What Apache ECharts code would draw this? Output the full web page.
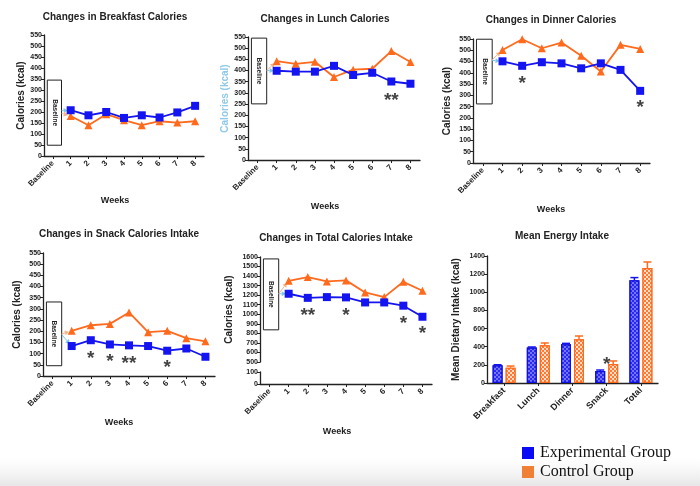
<!DOCTYPE html>
<html><head><meta charset="utf-8">
<script src="https://cdn.jsdelivr.net/npm/echarts/dist/echarts.min.js"></script>
<style>html,body{margin:0;padding:0;background:#fff}#c{width:700px;height:486px}</style>
</head><body><div id="c"></div><script>
// ---------- data ----------
const weeks = ['Baseline','1','2','3','4','5','6','7','8'];
const breakfastExp = [null,208,185,200,173,185,175,198,228];
const breakfastCtl = [null,182,140,190,163,140,158,152,158];
const lunchExp = [null,399,395,395,421,380,390,351,341];
const lunchCtl = [null,442,430,439,371,404,408,487,438];
const dinnerExp = [null,451,431,447,442,420,442,413,320];
const dinnerCtl = [null,501,549,509,534,476,406,524,506];
const snackExp = [null,134,160,141,137,134,113,123,86];
const snackCtl = [null,202,227,233,284,196,202,169,155];
const totalExp = [null,1215,1172,1180,1177,1124,1124,1090,974];
const totalCtl = [null,1351,1390,1344,1355,1229,1180,1340,1246];
// baseline boxes [low, high]
const breakfastBox = [49,345];
const lunchBox = [251,545];
const dinnerBox = [262,549];
const snackBox = [46,331];
const totalBox = [837,1580];
// baseline arrow start values [exp, ctl]
const breakfastStart = [206,194];
const lunchStart = [400,400];
const dinnerStart = [455,458];
const snackStart = [185,188];
const totalStart = [1215,1215];
// significance marks [week, value, text]
const lunchStars = [['7',290,'**']];
const dinnerStars = [['2',376,'*'],['8',270,'*']];
const snackStars = [['2',104,'*'],['3',91,'*'],['4',82,'**'],['6',62,'*']];
const totalStars = [['2',1047,'**'],['4',1047,'*'],['7',961,'*'],['8',856,'*']];
// mean energy intake
const mealCats = ['Breakfast','Lunch','Dinner','Snack','Total'];
const meanExp = [195,390,426,132,1132];
const meanExpErr = [6,7,11,11,30];
const meanCtl = [169,415,482,210,1268];
const meanCtlErr = [18,26,36,33,66];
const mealStars = [['Snack',262,'*']];

// ---------- style ----------
const FONT = 'Liberation Sans';
const BLUE = '#1414f0', ORANGE = '#ff6a1c', INK = '#222';

const grids = [
  {left:44, top:35, width:160, height:121},   // breakfast
  {left:248, top:37, width:172, height:123},  // lunch
  {left:473, top:39, width:177, height:124},  // dinner
  {left:43, top:253, width:172, height:123},  // snack
  {left:260, top:257, width:172, height:105}, // total upper
  {left:260, top:372, width:172, height:12},  // total lower
  {left:487, top:256, width:171, height:127}  // mean
];

function xAx(gi, data, show, opts) {
  return Object.assign({
    type:'category', gridIndex:gi, data:data, boundaryGap:true,
    axisLine:{show:show, onZero:false, lineStyle:{color:INK, width:1.3}},
    axisTick:{show:show, alignWithLabel:true, length:3, lineStyle:{color:INK}},
    axisLabel:{show:show, rotate:45, margin:6, fontFamily:FONT, fontWeight:'bold', fontSize:8, color:INK},
    splitLine:{show:false}
  }, opts||{});
}
function yAx(gi, min, max, interval, name, nameGap, nameColor) {
  return {
    type:'value', gridIndex:gi, min:min, max:max, interval:interval,
    name:name, nameLocation:'middle', nameGap:nameGap,
    nameTextStyle:{fontFamily:FONT, fontWeight:'bold', fontSize:10, color:nameColor||INK},
    axisLine:{show:true, lineStyle:{color:INK, width:1.3}},
    axisTick:{show:true, length:3, lineStyle:{color:INK}},
    axisLabel:{fontFamily:FONT, fontWeight:'bold', fontSize:7, color:INK, margin:2,
               formatter:function(v){return String(v);}},
    splitLine:{show:false}
  };
}

function boxSeries(gi, box) {
  return {
    type:'custom', xAxisIndex:gi, yAxisIndex:gi, z:1, silent:true,
    data:[[0, box[0], box[1]]],
    renderItem:function(params, api){
      const c0 = api.coord([api.value(0), api.value(1)]);
      const c1 = api.coord([api.value(0), api.value(2)]);
      const band = api.size([1,0])[0];
      const w = band*0.8, cx = c0[0]+1.5;
      return {type:'group', children:[
        {type:'rect', shape:{x:cx-w/2, y:c1[1], width:w, height:c0[1]-c1[1]},
         style:{fill:'#fff', stroke:INK, lineWidth:1}},
        {type:'text', x:cx, y:(c0[1]+c1[1])/2, rotation:-Math.PI/2,
         style:{text:'Baseline', textAlign:'center', textVerticalAlign:'middle', align:'center', verticalAlign:'middle',
                font:'bold 6.5px "Liberation Sans"', fill:INK}}
      ]};
    }
  };
}
function arrowSeries(gi, startVals, exp, ctl) {
  return {
    type:'custom', xAxisIndex:gi, yAxisIndex:gi, z:2, silent:true,
    data:[[0, startVals[0], exp[1], 0],[0, startVals[1], ctl[1], 1]],
    renderItem:function(params, api){
      const band = api.size([1,0])[0];
      const a = api.coord([0, api.value(1)]);
      const b = api.coord([1, api.value(2)]);
      const x0 = a[0]+band*0.4+1.5, y0 = a[1];
      const dx = b[0]-x0, dy = b[1]-y0, L = Math.sqrt(dx*dx+dy*dy)||1;
      const ux = dx/L, uy = dy/L;
      const ex = b[0]-ux*3, ey = b[1]-uy*3;
      const col = api.value(3)===0 ? '#7cc4ee' : '#f7b48a';
      const h = 4, hw = 2.5;
      return {type:'group', children:[
        {type:'line', shape:{x1:x0, y1:y0, x2:ex-ux*h, y2:ey-uy*h}, style:{stroke:col, lineWidth:1}},
        {type:'polygon', shape:{points:[[ex,ey],[ex-ux*h-uy*hw, ey-uy*h+ux*hw],[ex-ux*h+uy*hw, ey-uy*h-ux*hw]]}, style:{fill:col}}
      ]};
    }
  };
}
function lineSeries(gi, name, data, color, symbol, size) {
  return {
    type:'line', name:name, xAxisIndex:gi, yAxisIndex:gi, data:data, z:3,
    symbol:symbol, symbolSize:size, showAllSymbol:true,
    lineStyle:{color:color, width:1.8}, itemStyle:{color:color}
  };
}
function starSeries(gi, stars) {
  return {
    type:'scatter', xAxisIndex:gi, yAxisIndex:gi, z:4, silent:true,
    data:stars, symbolSize:1, itemStyle:{color:'rgba(0,0,0,0)'},
    label:{show:true, position:'inside', offset:[0,6], formatter:function(p){return p.value[2];},
           fontFamily:FONT, fontWeight:'bold', fontSize:19, color:'#111'}
  };
}
function panel(gi, exp, ctl, box, start, stars) {
  const s = [boxSeries(gi, box), arrowSeries(gi, start, exp, ctl),
    lineSeries(gi, 'Control Group', ctl, ORANGE, 'triangle', 8),
    lineSeries(gi, 'Experimental Group', exp, BLUE, 'rect', 8)];
  if (stars) s.push(starSeries(gi, stars));
  return s;
}

const xAxes = [
  xAx(0, weeks, true), xAx(1, weeks, true), xAx(2, weeks, true), xAx(3, weeks, true),
  xAx(4, weeks, false), xAx(5, weeks, true),
  xAx(6, mealCats, true, {axisLabel:{rotate:45, margin:6, fontFamily:FONT, fontWeight:'bold', fontSize:9, color:INK, interval:0}})
];
const yAxes = [
  yAx(0, 0, 550, 50, 'Calories (kcal)', 16),
  yAx(1, 0, 550, 50, 'Calories (kcal)', 15, '#8fc8e8'),
  yAx(2, 0, 550, 50, 'Calories (kcal)', 21),
  yAx(3, 0, 550, 50, 'Calories (kcal)', 21),
  yAx(4, 500, 1600, 100, 'Calories (kcal)', 26),
  yAx(5, 0, 100, 100, '', 10),
  yAx(6, 0, 1400, 200, 'Mean Dietary Intake (kcal)', 26)
];

function errSeries(vals, errs, color, off) {
  return {
    type:'custom', xAxisIndex:6, yAxisIndex:6, z:1, silent:true,
    data: vals.map(function(v,i){return [i, v, v+errs[i]];}),
    renderItem:function(params, api){
      const a = api.coord([api.value(0), api.value(1)]);
      const b = api.coord([api.value(0), api.value(2)]);
      const x = a[0]+off;
      return {type:'group', children:[
        {type:'line', shape:{x1:x, y1:a[1], x2:x, y2:b[1]}, style:{stroke:color, lineWidth:1.5}},
        {type:'line', shape:{x1:x-4, y1:b[1], x2:x+4, y2:b[1]}, style:{stroke:color, lineWidth:1.5}}
      ]};
    }
  };
}
const barSeries = [
  errSeries(meanExp, meanExpErr, BLUE, -6.5),
  errSeries(meanCtl, meanCtlErr, ORANGE, 6.5),
  {type:'bar', name:'Experimental Group', xAxisIndex:6, yAxisIndex:6, data:meanExp, barWidth:10, barGap:'30%', z:2,
   itemStyle:{color:'#2a2af5', borderColor:'#1010e0', borderWidth:1.2,
     decal:{symbol:'rect', symbolSize:1, color:'rgba(255,255,255,0.35)', dashArrayX:[[2,2],[0,2,2,0]], dashArrayY:[2,0]}}},
  {type:'bar', name:'Control Group', xAxisIndex:6, yAxisIndex:6, data:meanCtl, barWidth:10, z:2,
   itemStyle:{color:'#ff7a30', borderColor:'#ff6a1c', borderWidth:1.2,
     decal:{symbol:'rect', symbolSize:1, color:'rgba(255,255,255,0.75)', dashArrayX:[[2,2],[0,2,2,0]], dashArrayY:[2,0]}}},
  starSeries(6, mealStars)
];

function txt(x, y, s, size) {
  return {type:'text', x:x, y:y, z:10, style:{text:s, font:'bold '+size+'px "Liberation Sans"', fill:INK,
    textAlign:'center', textVerticalAlign:'middle', align:'center', verticalAlign:'middle'}};
}
function legendItem(top, name, color) {
  return {
    orient:'vertical', left:522, top:top, padding:0, itemWidth:12, itemHeight:12, icon:'rect',
    selectedMode:false,
    textStyle:{fontFamily:'Liberation Serif', fontSize:16, color:'#111', padding:[0,0,0,1]},
    data:[{name:name, itemStyle:{color:color}}]
  };
}

const option = {
  animation:false,
  backgroundColor:'#fff',
  grid: grids,
  xAxis: xAxes,
  yAxis: yAxes,
  legend: [legendItem(445, 'Experimental Group', '#0a0af5'), legendItem(464, 'Control Group', '#f08035')],
  graphic: [
    {type:'rect', z:-10, silent:true, shape:{x:0, y:458, width:700, height:28},
     style:{fill:new echarts.graphic.LinearGradient(0,0,0,1,[{offset:0,color:'rgba(240,240,240,0)'},{offset:1,color:'#e6e6e6'}])}},
    txt(115, 17, 'Changes in Breakfast Calories', 10),
    txt(325, 19, 'Changes in Lunch Calories', 10),
    txt(551, 20, 'Changes in Dinner Calories', 10),
    txt(119, 234, 'Changes in Snack Calories Intake', 10),
    txt(336, 238, 'Changes in Total Calories Intake', 10),
    txt(562, 236, 'Mean Energy Intake', 10),
    txt(115, 201, 'Weeks', 9),
    txt(325, 207, 'Weeks', 9),
    txt(551, 210, 'Weeks', 9),
    txt(119, 423, 'Weeks', 9),
    txt(337, 432, 'Weeks', 9)
  ],
  series: [].concat(
    panel(0, breakfastExp, breakfastCtl, breakfastBox, breakfastStart, null),
    panel(1, lunchExp, lunchCtl, lunchBox, lunchStart, lunchStars),
    panel(2, dinnerExp, dinnerCtl, dinnerBox, dinnerStart, dinnerStars),
    panel(3, snackExp, snackCtl, snackBox, snackStart, snackStars),
    panel(4, totalExp, totalCtl, totalBox, totalStart, totalStars),
    barSeries
  )
};
const chart = echarts.init(document.getElementById('c'), null, {renderer:'canvas'});
chart.setOption(option);
</script></body></html>
